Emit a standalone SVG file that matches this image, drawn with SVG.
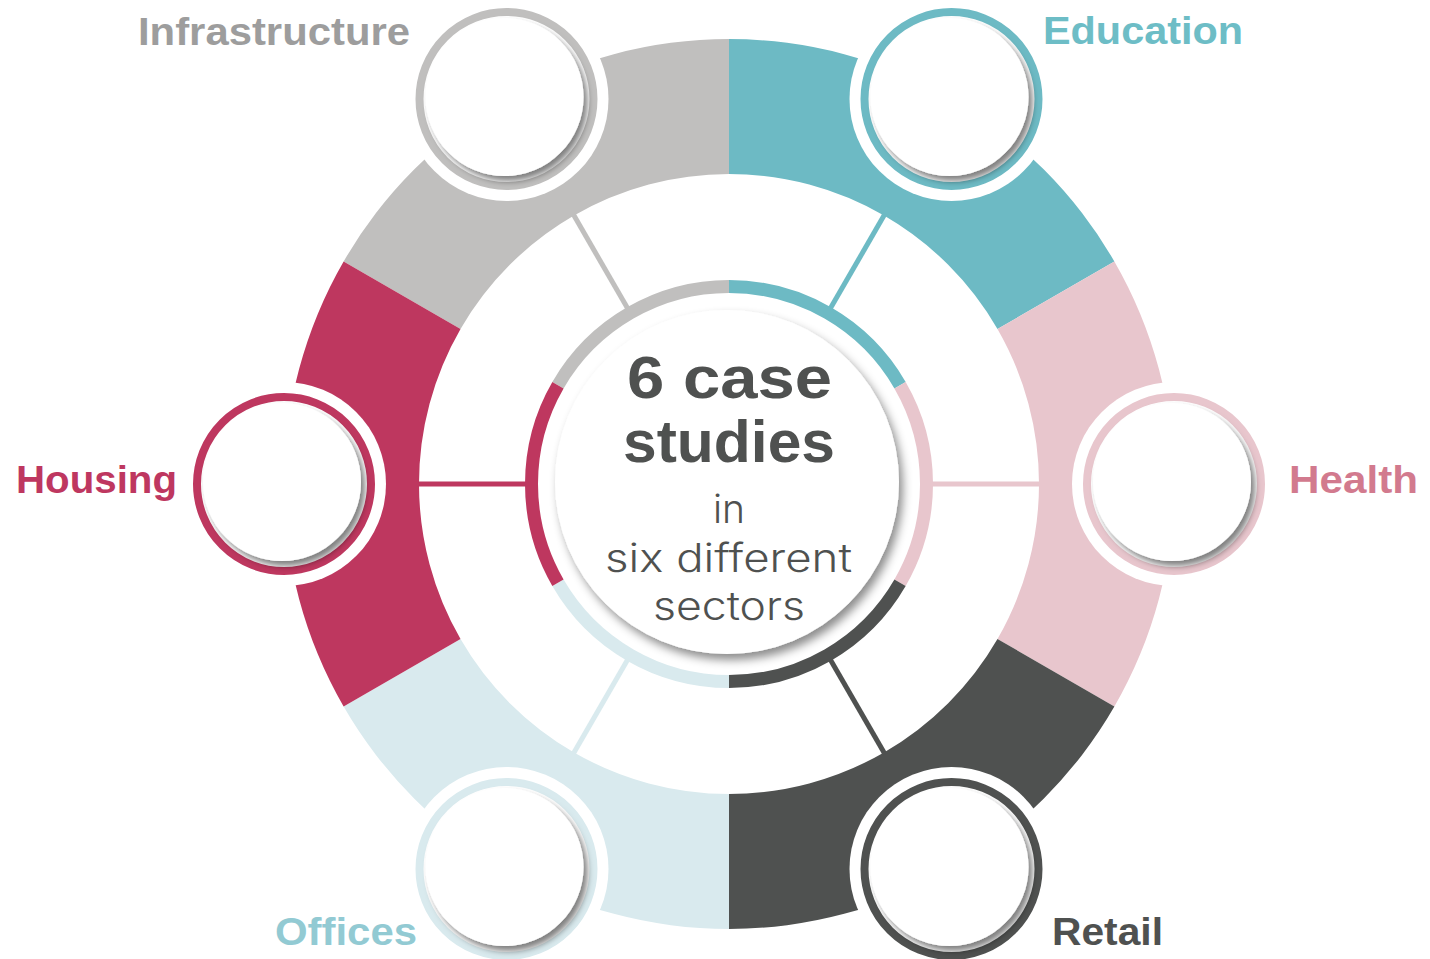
<svg xmlns="http://www.w3.org/2000/svg" width="1430" height="959" viewBox="0 0 1430 959">
  <defs>
    <filter id="nodeShadow" x="-30%" y="-30%" width="160%" height="160%">
      <feDropShadow dx="4" dy="5" stdDeviation="3" flood-color="#000" flood-opacity="0.5"/>
    </filter>
    <filter id="centerShadow" x="-30%" y="-30%" width="160%" height="160%">
      <feDropShadow dx="4" dy="6" stdDeviation="5" flood-color="#000" flood-opacity="0.45"/>
    </filter>
  </defs>
  <style>
    .halo { fill: #ffffff; }
    .ring { fill: #ffffff; stroke-width: 8; }
    .disk { fill: #ffffff; filter: url(#nodeShadow); }
    .label { font-family: "Liberation Sans", Arial, sans-serif; font-weight: bold; font-size: 38px; }
    .spoke { stroke-width: 5; fill: none; }
    .arc { stroke-width: 13; fill: none; }
    .big { font-family: "Liberation Sans", Arial, sans-serif; font-weight: bold; font-size: 60px; fill: #4f5150; }
    .small { font-family: Inter, "Open Sans", "Liberation Sans", sans-serif; font-weight: 300; font-size: 39px; fill: #4f5150; }
  </style>
  <rect width="1430" height="959" fill="#ffffff"/>

  <!-- outer ring segments -->
  <g id="outer-ring">
    <path d="M343.62 261.5 A445 445 0 0 1 729 39 L729 174 A310 310 0 0 0 460.53 329 Z" fill="#c0bfbe"/>
    <path d="M729 39 A445 445 0 0 1 1114.38 261.5 L997.47 329 A310 310 0 0 0 729 174 Z" fill="#6dbac4"/>
    <path d="M1114.38 261.5 A445 445 0 0 1 1114.38 706.5 L997.47 639 A310 310 0 0 0 997.47 329 Z" fill="#e8c6cd"/>
    <path d="M1114.38 706.5 A445 445 0 0 1 729 929 L729 794 A310 310 0 0 0 997.47 639 Z" fill="#4f5150"/>
    <path d="M729 929 A445 445 0 0 1 343.62 706.5 L460.53 639 A310 310 0 0 0 729 794 Z" fill="#d9eaee"/>
    <path d="M343.62 706.5 A445 445 0 0 1 343.62 261.5 L460.53 329 A310 310 0 0 0 460.53 639 Z" fill="#be375f"/>
  </g>

  <!-- connectors (spokes) -->
  <g id="connectors">
    <line class="spoke" x1="633.5" y1="318.6" x2="573" y2="213.8" stroke="#c0bfbe"/>
    <line class="spoke" x1="824.5" y1="318.6" x2="885" y2="213.8" stroke="#6dbac4"/>
    <line class="spoke" x1="920" y1="484" x2="1041" y2="484" stroke="#e8c6cd"/>
    <line class="spoke" x1="824.5" y1="649.4" x2="885" y2="754.2" stroke="#4f5150"/>
    <line class="spoke" x1="633.5" y1="649.4" x2="573" y2="754.2" stroke="#d9eaee"/>
    <line class="spoke" x1="538" y1="484" x2="417" y2="484" stroke="#be375f"/>
  </g>

  <!-- center hub -->
  <g id="center">
    <circle cx="729" cy="484" r="192" fill="#ffffff"/>
    <path class="arc" d="M557.96 385.25 A197.5 197.5 0 0 1 729 286.5" stroke="#c0bfbe"/>
    <path class="arc" d="M729 286.5 A197.5 197.5 0 0 1 900.04 385.25" stroke="#6dbac4"/>
    <path class="arc" d="M900.04 385.25 A197.5 197.5 0 0 1 900.04 582.75" stroke="#e8c6cd"/>
    <path class="arc" d="M900.04 582.75 A197.5 197.5 0 0 1 729 681.5" stroke="#4f5150"/>
    <path class="arc" d="M729 681.5 A197.5 197.5 0 0 1 557.96 582.75" stroke="#d9eaee"/>
    <path class="arc" d="M557.96 582.75 A197.5 197.5 0 0 1 557.96 385.25" stroke="#be375f"/>
    <circle cx="727" cy="482" r="172" fill="#ffffff" filter="url(#centerShadow)"/>
    <text class="big" x="627" y="398" textLength="205" lengthAdjust="spacingAndGlyphs">6 case</text>
    <text class="big" x="623" y="462" textLength="212" lengthAdjust="spacingAndGlyphs">studies</text>
    <text class="small" x="729" y="523" text-anchor="middle">in</text>
    <text class="small" x="605" y="572" textLength="247" lengthAdjust="spacingAndGlyphs">six different</text>
    <text class="small" x="653" y="620" textLength="152" lengthAdjust="spacingAndGlyphs">sectors</text>
  </g>

  <!-- nodes -->
  <g id="node-infrastructure">
    <circle class="halo" cx="506.5" cy="99" r="102"/>
    <circle class="ring" cx="506.5" cy="99" r="87" stroke="#c0bfbe"/>
    <circle class="disk" cx="504.5" cy="97" r="79"/>
    <text class="label" x="138" y="45" textLength="272" lengthAdjust="spacingAndGlyphs" fill="#9d9d9d">Infrastructure</text>
  </g>
  <g id="node-education">
    <circle class="halo" cx="951.5" cy="99" r="102"/>
    <circle class="ring" cx="951.5" cy="99" r="87" stroke="#6dbac4"/>
    <circle class="disk" cx="949.5" cy="97" r="79"/>
    <text class="label" x="1043" y="44" textLength="200" lengthAdjust="spacingAndGlyphs" fill="#6dbdc6">Education</text>
  </g>
  <g id="node-health">
    <circle class="halo" cx="1174" cy="484" r="102"/>
    <circle class="ring" cx="1174" cy="484" r="87" stroke="#e8c6cd"/>
    <circle class="disk" cx="1172" cy="482" r="79"/>
    <text class="label" x="1289" y="493" textLength="129" lengthAdjust="spacingAndGlyphs" fill="#d27a8e">Health</text>
  </g>
  <g id="node-retail">
    <circle class="halo" cx="951.5" cy="869" r="102"/>
    <circle class="ring" cx="951.5" cy="869" r="87" stroke="#4f5150"/>
    <circle class="disk" cx="949.5" cy="867" r="79"/>
    <text class="label" x="1052" y="945" textLength="111" lengthAdjust="spacingAndGlyphs" fill="#4f5150">Retail</text>
  </g>
  <g id="node-offices">
    <circle class="halo" cx="506.5" cy="869" r="102"/>
    <circle class="ring" cx="506.5" cy="869" r="87" stroke="#d9eaee"/>
    <circle class="disk" cx="504.5" cy="867" r="79"/>
    <text class="label" x="275" y="945" textLength="142" lengthAdjust="spacingAndGlyphs" fill="#92cad3">Offices</text>
  </g>
  <g id="node-housing">
    <circle class="halo" cx="284" cy="484" r="102"/>
    <circle class="ring" cx="284" cy="484" r="87" stroke="#be375f"/>
    <circle class="disk" cx="282" cy="482" r="79"/>
    <text class="label" x="16" y="493" textLength="161" lengthAdjust="spacingAndGlyphs" fill="#be3760">Housing</text>
  </g>
</svg>
